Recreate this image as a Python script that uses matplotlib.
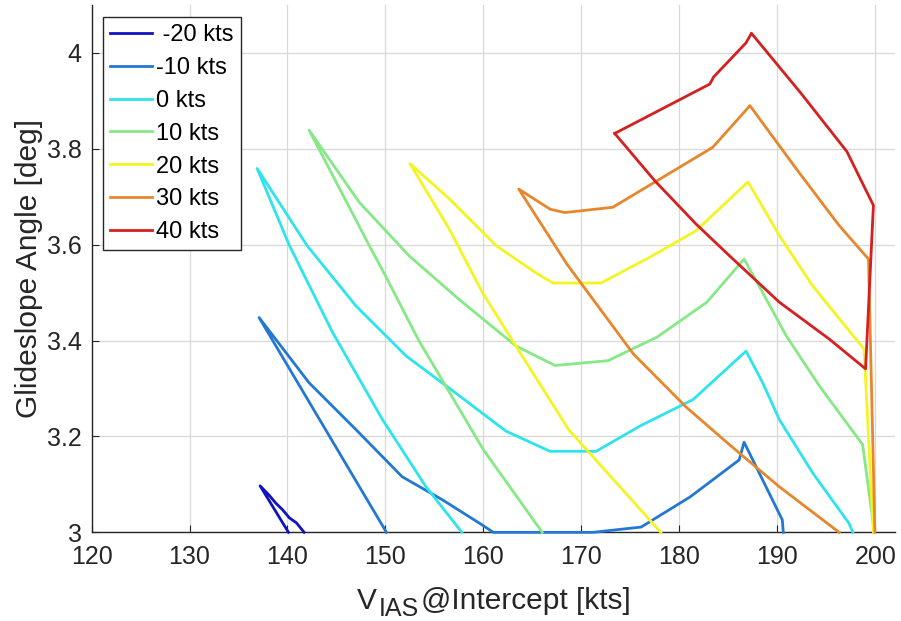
import matplotlib
matplotlib.use('Agg')
import matplotlib.pyplot as plt
from matplotlib.ticker import FormatStrFormatter

# Data: glideslope angle vs. intercept IAS, one loop per wind
wind_labels = [' -20 kts', '-10 kts', '0 kts', '10 kts', '20 kts', '30 kts', '40 kts']
line_colors = ['#1212c0', '#2278d2', '#2ee4ec', '#86e886', '#f4f422', '#e8862c', '#d42020']

vias_m20 = [140.1, 137.2, 138.1, 138.8, 139.5, 140.2, 140.9, 141.7]
gs_m20 = [3.0, 3.097, 3.078, 3.061, 3.047, 3.03, 3.02, 3.0]

vias_m10 = [150.1, 137.1, 142.2, 147.0, 151.7, 155.8, 159.9, 161.0, 171.2, 176.1, 181.1,
            186.1, 186.6, 190.5, 190.6]
gs_m10 = [3.0, 3.448, 3.312, 3.214, 3.116, 3.068, 3.015, 3.0, 3.0, 3.011, 3.074,
          3.151, 3.188, 3.026, 3.0]

vias_0 = [157.8, 154.1, 149.7, 144.6, 140.2, 136.9, 142.0, 147.0, 152.1, 157.2, 162.3,
          166.8, 171.5, 176.0, 181.4, 186.8, 188.5, 190.2, 193.6, 197.3, 197.7]
gs_0 = [3.0, 3.096, 3.235, 3.417, 3.598, 3.759, 3.598, 3.472, 3.368, 3.29, 3.211,
        3.169, 3.169, 3.222, 3.277, 3.378, 3.312, 3.235, 3.124, 3.019, 3.0]

vias_10 = [166.0, 160.0, 153.4, 150.0, 148.3, 142.2, 147.3, 152.4, 157.5, 163.3, 167.3,
           172.7, 177.7, 182.8, 186.6, 188.5, 190.9, 194.3, 198.7, 199.9]
gs_10 = [3.0, 3.172, 3.4, 3.535, 3.6, 3.839, 3.689, 3.577, 3.486, 3.389, 3.348,
         3.358, 3.407, 3.48, 3.57, 3.5, 3.41, 3.305, 3.183, 3.0]

vias_20 = [178.1, 168.7, 163.3, 159.9, 156.5, 152.5, 156.5, 161.3, 165.3, 167.1, 172.0,
           177.0, 181.7, 187.0, 190.2, 193.6, 198.85, 199.8]
gs_20 = [3.0, 3.214, 3.389, 3.5, 3.633, 3.769, 3.696, 3.598, 3.542, 3.52, 3.52,
         3.574, 3.629, 3.731, 3.619, 3.514, 3.382, 3.0]

vias_30 = [196.3, 190.2, 185.1, 180.7, 175.3, 168.5, 163.6, 166.8, 168.3, 173.2, 183.4,
           187.2, 191.9, 196.3, 199.3, 199.95]
gs_30 = [3.0, 3.095, 3.183, 3.261, 3.372, 3.56, 3.716, 3.674, 3.667, 3.678, 3.803,
         3.89, 3.759, 3.64, 3.57, 3.0]

vias_40 = [173.4, 183.1, 183.5, 186.8, 187.35, 192.4, 197.1, 199.8, 199.0, 195.3, 190.2,
           185.1, 181.7, 177.5, 173.4]
gs_40 = [3.832, 3.935, 3.95, 4.021, 4.041, 3.916, 3.794, 3.682, 3.341, 3.403, 3.48,
         3.577, 3.643, 3.733, 3.832]

all_vias = [vias_m20, vias_m10, vias_0, vias_10, vias_20, vias_30, vias_40]
all_gs = [gs_m20, gs_m10, gs_0, gs_10, gs_20, gs_30, gs_40]

x_ticks = [120, 130, 140, 150, 160, 170, 180, 190, 200]
y_ticks = [3.0, 3.2, 3.4, 3.6, 3.8, 4.0]

plt.rcParams['font.family'] = ['Liberation Sans', 'DejaVu Sans']
text_col = '#262626'

W, H = 901, 621
fig, ax = plt.subplots(figsize=(W / 100, H / 100), dpi=100)
fig.subplots_adjust(left=0.1016, right=0.9933, bottom=0.1428, top=0.992)

for vx, gy, lab, col in zip(all_vias, all_gs, wind_labels, line_colors):
    ax.plot(vx, gy, color=col, lw=2.0, label=lab, clip_on=False, zorder=3)

ax.set_xlim(120, 202)
ax.set_ylim(3, 4.1)
ax.set_xticks(x_ticks)
ax.set_yticks(y_ticks)
ax.yaxis.set_major_formatter(FormatStrFormatter('%g'))
ax.grid(True, color='#d8d8d8', lw=0.9)
ax.set_axisbelow(True)

for side in ['top', 'right']:
    ax.spines[side].set_visible(False)
for side in ['left', 'bottom']:
    ax.spines[side].set_color('#262626')
    ax.spines[side].set_linewidth(1.0)

ax.tick_params(axis='both', direction='in', length=5, labelsize=18, colors=text_col)
ax.tick_params(axis='x', pad=9)
ax.tick_params(axis='y', pad=7)

# y label
ax.set_ylabel('Glideslope Angle [deg]', fontsize=21.5, color=text_col)
ax.yaxis.set_label_coords(-0.060, 0.5)

# x label in pieces so the IAS subscript sits low like the original
fig.text(357 / W, 1 - 609 / H, 'V', fontsize=21.5, color=text_col, ha='left', va='baseline')
fig.text(379 / W, 1 - 616 / H, 'IAS', fontsize=18, color=text_col, ha='left', va='baseline')
fig.text(421 / W, 1 - 609 / H, '@Intercept [kts]', fontsize=21.5, color=text_col,
         ha='left', va='baseline')

leg = ax.legend(loc='upper left', bbox_to_anchor=(0.0145, 0.977), borderaxespad=0,
                fontsize=17, handlelength=1.75, handletextpad=0.2, labelspacing=0.46,
                borderpad=0.3, fancybox=False, framealpha=1, edgecolor='#262626')
leg.get_frame().set_linewidth(1.0)
for t in leg.get_texts():
    t.set_color('black')

fig.savefig('out.png', dpi=100)
